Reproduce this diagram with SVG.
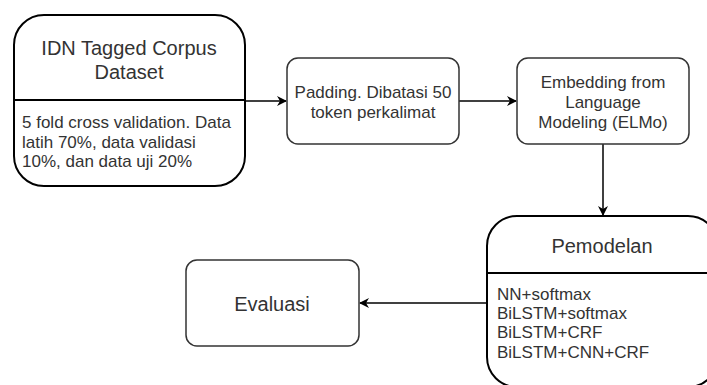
<svg xmlns="http://www.w3.org/2000/svg" width="707" height="385" viewBox="0 0 707 385">
  <style>
    .lane { fill: #fff; stroke: #000; stroke-width: 2; }
    .box { fill: #fff; stroke: #333; stroke-width: 1.5; }
    .div { stroke: #000; stroke-width: 2; }
    .edge { fill: none; stroke: #000; stroke-width: 1.5; }
    text { font-family: "Liberation Sans", Arial, sans-serif; fill: #333; }
    .t20 { font-size: 20px; }
    .t17 { font-size: 17px; }
    .mid { text-anchor: middle; }
  </style>
  <defs>
    <marker id="arrow" viewBox="0 0 10 10" refX="9" refY="5" markerWidth="10" markerHeight="10" markerUnits="userSpaceOnUse" orient="auto">
      <path d="M0,0 L10,5 L0,10 L3,5 Z" fill="#000"/>
    </marker>
  </defs>

  <g id="connectors">
    <line class="edge" x1="245" y1="101" x2="286" y2="101" marker-end="url(#arrow)"/>
    <line class="edge" x1="459" y1="101" x2="516" y2="101" marker-end="url(#arrow)"/>
    <line class="edge" x1="603" y1="144" x2="603" y2="215" marker-end="url(#arrow)"/>
    <line class="edge" x1="487" y1="303" x2="360" y2="303" marker-end="url(#arrow)"/>
  </g>

  <g id="dataset">
    <rect class="lane" x="14" y="15" width="231" height="171" rx="30"/>
    <line class="div" x1="14" y1="100" x2="245" y2="100"/>
    <text class="t20 mid" x="129" y="55">IDN Tagged Corpus</text>
    <text class="t20 mid" x="129" y="79">Dataset</text>
    <text class="t17" x="22" y="128">5 fold cross validation. Data</text>
    <text class="t17" x="22" y="148">latih 70%, data validasi</text>
    <text class="t17" x="22" y="167">10%, dan data uji 20%</text>
  </g>

  <g id="padding">
    <rect class="box" x="287" y="58" width="172" height="86" rx="11"/>
    <text class="t17 mid" x="373" y="98">Padding. Dibatasi 50</text>
    <text class="t17 mid" x="373" y="118">token perkalimat</text>
  </g>

  <g id="elmo">
    <rect class="box" x="517" y="58" width="172" height="86" rx="11"/>
    <text class="t17 mid" x="603" y="88">Embedding from</text>
    <text class="t17 mid" x="603" y="108">Language</text>
    <text class="t17 mid" x="603" y="128">Modeling (ELMo)</text>
  </g>

  <g id="pemodelan">
    <rect class="lane" x="487" y="216" width="231" height="171" rx="30"/>
    <line class="div" x1="487" y1="273" x2="718" y2="273"/>
    <text class="t20 mid" x="602" y="253">Pemodelan</text>
    <text class="t17" x="497" y="300">NN+softmax</text>
    <text class="t17" x="497" y="319">BiLSTM+softmax</text>
    <text class="t17" x="497" y="338">BiLSTM+CRF</text>
    <text class="t17" x="497" y="358">BiLSTM+CNN+CRF</text>
  </g>

  <g id="evaluasi">
    <rect class="box" x="186" y="260" width="173" height="86" rx="11"/>
    <text class="t20 mid" x="272" y="311">Evaluasi</text>
  </g>
</svg>
